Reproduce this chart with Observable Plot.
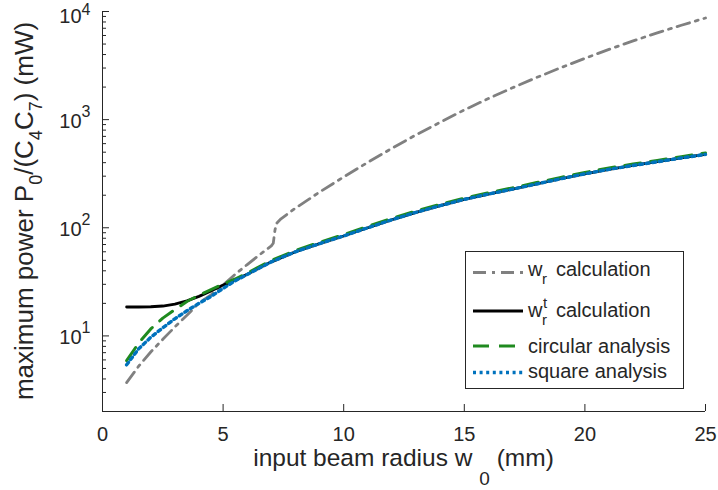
<!DOCTYPE html>
<html><head><meta charset="utf-8">
<script src="https://cdn.jsdelivr.net/npm/d3@7"></script>
<script src="https://cdn.jsdelivr.net/npm/@observablehq/plot@0.6"></script>
<style>
html,body{margin:0;padding:0;background:#fff;}
#chart svg{display:block;}
</style>
</head><body><div id="chart"></div>
<script>
// ---- data ----
const radius   = [1,1.5,2,2.5,3,3.5,4,4.5,5,5.5,6,7,8,9,10,11,12,13,14,15,16,17,18,19,20,21,22,23,24,25];
const wrtCalc  = [18.5,18.5,18.6,18.9,19.7,21.1,23.2,26.0,29.5,32.8,37.2,48.4,60,71.3,84,100,118.6,139,160,183,205,227.5,254,284,315.5,347,377,408,442,477];
const circular = [5.9,8.6,11.6,14.6,17.5,20.8,23.8,26.8,30.2,33.6,38.2,49.8,61.8,73.4,86.6,103,122,143,165,188,211,234,262,292,325,357,388,420,455,491];
const square   = [5.4,7.6,9.7,11.9,14.4,17.1,20.0,23.2,27.5,32.3,37.0,48.4,60,71.3,84,100,118.6,139,160,183,205,227.5,254,284,315.5,347,377,408,442,477];
const wrRadius = [1,1.5,2,2.5,3,3.5,4,4.5,5,5.5,6,6.5,7,7.08,7.15,7.22,7.4,8,8.5,9,10,11,12,13,14,15,16,17,18,19,20,21,22,23,24,25];
const wrCalc   = [3.7,5.25,7.1,9.3,12.1,15.5,20.2,24,29.5,37.1,45.7,56,68,72,95,110,121,152,180,214,295,403,543,724,944,1230,1567,1972,2455,3020,3690,4467,5346,6353,7464,8710];
const xTicks   = [0,5,10,15,20,25];
const yMajor   = [10,100,1000,10000];
const yMinor   = [2,3,4,5,6,7,8,9,20,30,40,50,60,70,80,90,200,300,400,500,600,700,800,900,2000,3000,4000,5000,6000,7000,8000,9000];
const legendLabels = ["w_r calculation","w_r^t calculation","circular analysis","square analysis"];

// ---- layout ----
const W = 718, H = 490, mL = 102, mR = 13, mT = 11, mB = 79;
const pw = W - mL - mR, ph = H - mT - mB;
const ink = "#262626";
const font = "'Liberation Sans', Arial, Helvetica, sans-serif";

const wrtData = radius.map((r,i)=>({r, v: wrtCalc[i]}));
const circData = radius.map((r,i)=>({r, v: circular[i]}));
const sqData = radius.map((r,i)=>({r, v: square[i]}));
const wrData = wrRadius.map((r,i)=>({r, v: wrCalc[i]}));

const styles = {
  wr:   {stroke: "#808080", strokeWidth: 2.8, strokeDasharray: "13,6,3,6"},
  wrt:  {stroke: "#000000", strokeWidth: 2.8},
  circ: {stroke: "#1f8a1f", strokeWidth: 3, strokeDasharray: "16,10"},
  sq:   {stroke: "#0072BD", strokeWidth: 3.4, strokeDasharray: "3,3.6"}
};

const chart = Plot.plot({
  width: W, height: H,
  marginLeft: mL, marginRight: mR, marginTop: mT, marginBottom: mB,
  style: {fontFamily: font, fontSize: "20px", color: ink, background: "white", overflow: "visible"},
  x: {domain: [0, 25]},
  y: {type: "log", domain: [2, 10000]},
  marks: [
    Plot.axisX({ticks: xTicks, tickSize: 0, tickPadding: 15, label: null, tickFormat: d => String(d), fontSize: 20}),
    Plot.axisY({ticks: yMajor, tickSize: 0, tickPadding: 12, label: null, dy: 2, fontSize: 20,
                tickFormat: d => "10^" + Math.round(Math.log10(d))}),
    Plot.tickX(xTicks, {x: d => d, insetTop: ph - 7, stroke: ink, strokeWidth: 1}),
    Plot.tickY(yMajor, {y: d => d, insetRight: pw - 7, stroke: ink, strokeWidth: 1}),
    Plot.tickY(yMinor, {y: d => d, insetRight: pw - 4, stroke: ink, strokeWidth: 1}),
    Plot.ruleX([0], {stroke: ink, strokeWidth: 1}),
    Plot.ruleY([2], {stroke: ink, strokeWidth: 1}),
    Plot.line(wrData, {x: "r", y: "v", ...styles.wr}),
    Plot.line(wrtData, {x: "r", y: "v", ...styles.wrt}),
    Plot.line(circData, {x: "r", y: "v", ...styles.circ}),
    Plot.line(sqData, {x: "r", y: "v", ...styles.sq})
  ]
});
document.getElementById("chart").appendChild(chart);

const svg = d3.select(chart);
// superscripts on y tick labels
svg.selectAll('g[aria-label="y-axis tick label"] text').each(function(){
  const t = this.textContent.split("^");
  if (t.length < 2) return;
  const top = t[1] === "4";
  const el = d3.select(this);
  el.text(null);
  el.append("tspan").attr("dy", top ? 3 : 0).text(t[0]);
  el.append("tspan").attr("dy", top ? -8 : -11).attr("font-size", 16).text(t[1]);
});

// axis titles
const xt = svg.append("text").attr("x", mL + pw/2).attr("y", 466).attr("text-anchor","middle")
  .attr("font-family", font).attr("font-size", 24.5).attr("fill", ink);
xt.append("tspan").text("input beam radius w ");
xt.append("tspan").attr("dy", 19).attr("font-size", 19).text("0");
xt.append("tspan").attr("dy", -19).text(" (mm)");

const yt = svg.append("text").attr("transform", `translate(33,${mT + ph/2}) rotate(-90)`)
  .attr("text-anchor","middle").attr("font-family", font).attr("font-size", 26).attr("fill", ink);
const parts = [["maximum power P",0],["0",1],["/(C",0],["4",1],["C",0],["7",1],[") (mW)",0]];
let prev = 0;
parts.forEach(([s,sub])=>{
  const off = sub ? 9 : 0;
  yt.append("tspan").attr("dy", off - prev).attr("font-size", sub ? 18 : 26).text(s);
  prev = off;
});

// legend
const lg = svg.append("g").attr("font-family", font).attr("font-size", 20).attr("fill", ink).attr("text-anchor", "start");
lg.append("rect").attr("x", 465.5).attr("y", 251.5).attr("width", 218).attr("height", 137)
  .attr("fill", "white").attr("stroke", ink).attr("stroke-width", 1);
const rows = [
  {ly: 272.5, ty: 276, st: styles.wr},
  {ly: 311, ty: 317, st: styles.wrt},
  {ly: 346, ty: 353, st: styles.circ},
  {ly: 372.5, ty: 378, st: styles.sq}
];
rows.forEach((r,i)=>{
  lg.append("line").attr("x1", 473).attr("x2", 523).attr("y1", r.ly).attr("y2", r.ly)
    .attr("stroke", r.st.stroke).attr("stroke-width", r.st.strokeWidth)
    .attr("stroke-dasharray", r.st.strokeDasharray || null);
  const lab = legendLabels[i];
  if (lab.startsWith("w_r")) {
    const rest = lab.replace(/^w_r(\^t)? /, "");
    lg.append("text").attr("x", 528).attr("y", r.ty).text("w");
    lg.append("text").attr("x", 542).attr("y", r.ty + 8).attr("font-size", 15).text("r");
    if (lab.includes("^t")) lg.append("text").attr("x", 543).attr("y", r.ty - 9).attr("font-size", 15).text("t");
    lg.append("text").attr("x", 556).attr("y", r.ty).text(rest);
  } else {
    lg.append("text").attr("x", 528).attr("y", r.ty).text(lab);
  }
});
</script>
</body></html>
